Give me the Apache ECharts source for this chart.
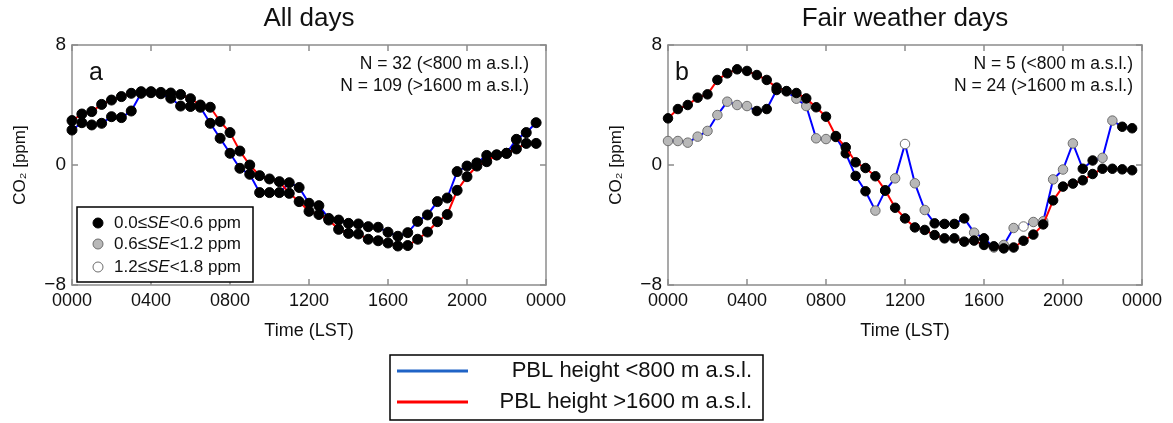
<!DOCTYPE html>
<html>
<head>
<meta charset="utf-8">
<script src="https://cdn.jsdelivr.net/npm/echarts@6/dist/echarts.min.js"></script>
<style>
html,body{margin:0;padding:0;background:#fff;}
#chart{width:1173px;height:423px;}
</style>
</head>
<body>
<div id="chart"></div>
<script>
// ---- data (half-hourly, hours since 0000 LST) ----
var hours = [];
for (var h = 0; h < 48; h++) hours.push(h / 2);

var titles = ['All days', 'Fair weather days'];
var panelLetters = ['a', 'b'];
var nLow = ['N = 32 (<800 m a.s.l.)', 'N = 5 (<800 m a.s.l.)'];
var nHigh = ['N = 109 (>1600 m a.s.l.)', 'N = 24 (>1600 m a.s.l.)'];
var xTickLabels = ['0000', '0400', '0800', '1200', '1600', '2000', '0000'];
var seClasses = ['0.0\u2264', 'SE', '<0.6 ppm', '0.6\u2264', 'SE', '<1.2 ppm', '1.2\u2264', 'SE', '<1.8 ppm'];
var seriesNames = ['PBL height <800 m a.s.l.', 'PBL height >1600 m a.s.l.'];

// All days
var allLow = [2.33, 2.82, 2.67, 2.78, 3.22, 3.16, 3.6, 4.78, 4.82, 4.75, 4.45, 3.93,
  3.9, 3.85, 2.78, 1.78, 0.78, -0.22, -0.62, -1.84, -1.84, -1.84, -1.18, -1.5,
  -2.55, -2.71, -3.56, -3.67, -3.89, -3.93, -4.11, -4.15, -4.48, -4.75, -4.51, -3.76,
  -3.33, -2.44, -2.2, -0.44, -0.07, 0.14, 0.64, 0.67, 0.78, 1.71, 2.16, 2.82];
var allHigh = [2.96, 3.4, 3.56, 4.04, 4.33, 4.56, 4.78, 4.89, 4.89, 4.84, 4.8, 4.7,
  4.42, 4.0, 3.85, 2.9, 2.16, 0.93, 0.0, -0.71, -0.93, -1.11, -1.89, -2.44,
  -3.09, -3.3, -3.67, -4.29, -4.56, -4.6, -4.95, -5.05, -5.2, -5.4, -5.37, -4.95,
  -4.47, -3.78, -3.3, -1.69, -0.78, -0.07, 0.22, 0.67, 0.78, 1.07, 1.44, 1.44];
var allLowSE = new Array(48).fill(0);
var allHighSE = new Array(48).fill(0);

// Fair weather days
var fairLow = [1.6, 1.6, 1.49, 1.89, 2.27, 3.33, 4.22, 4.0, 3.93, 3.6, 3.73, 5.0,
  4.9, 4.42, 3.93, 1.78, 1.73, 1.87, 0.78, -0.73, -1.75, -3.04, -1.71, -0.89,
  1.4, -1.22, -3.0, -3.89, -3.93, -3.93, -3.56, -4.51, -4.89, -5.5, -5.33, -4.2,
  -4.1, -3.8, -3.75, -0.96, -0.3, 1.44, -0.25, 0.3, 0.48, 2.96, 2.55, 2.45];
var fairHigh = [3.11, 3.73, 4.0, 4.49, 4.71, 5.67, 6.11, 6.38, 6.27, 6.0, 5.67, 5.16,
  4.93, 4.8, 4.44, 3.85, 3.22, 1.93, 1.18, 0.18, -0.2, -0.75, -1.69, -2.85,
  -3.56, -4.16, -4.33, -4.67, -4.89, -4.89, -5.11, -5.04, -5.33, -5.42, -5.56, -5.5,
  -5.05, -4.64, -3.96, -2.36, -1.44, -1.24, -1.02, -0.6, -0.25, -0.25, -0.29, -0.35];
// SE class: 0 = 0.0-0.6, 1 = 0.6-1.2, 2 = 1.2-1.8 ppm
var fairLowSE = [1, 1, 1, 1, 1, 1, 1, 1, 1, 0, 0, 0,
  1, 1, 1, 1, 1, 0, 0, 0, 0, 1, 0, 1,
  2, 1, 1, 0, 0, 0, 0, 1, 0, 1, 1, 1,
  2, 1, 1, 1, 1, 1, 0, 0, 1, 1, 0, 0];
var fairHighSE = new Array(48).fill(0);

// ---- styling ----
var FONT = 'Liberation Sans, Arial, sans-serif';
var SE_FILL = ['#000000', '#b8b8b8', '#ffffff'];
var SE_BORDER = ['#000000', '#6e6e6e', '#6e6e6e'];
var LINE_COLORS = ['#0000ff', '#ff0000'];
var LEGEND_LINE_COLORS = ['#1f63c6', '#ff0000'];
var AXIS_COLOR = '#8c8c8c';

var grids = [
  {left: 72, top: 45, width: 474, height: 240},
  {left: 668, top: 45, width: 474, height: 240}
];
var letterOffset = [17, 7];
var nOffset = [17, 9];

function xLabel(v) {
  var idx = Math.round(v / 4);
  return xTickLabels[idx] !== undefined ? xTickLabels[idx] : '';
}
function yLabel(v) {
  return v < 0 ? '\u2212' + Math.abs(v) : String(v);
}

var lineSt = {show: true, onZero: false, lineStyle: {color: AXIS_COLOR, width: 1.5}};
var tickSt = {show: true, inside: true, length: 6, lineStyle: {color: AXIS_COLOR, width: 1.5}};

var xAxes = [], yAxes = [], series = [];
grids.forEach(function (g, gi) {
  xAxes.push({
    type: 'value', gridIndex: gi, min: 0, max: 24, interval: 4, position: 'bottom',
    name: 'Time (LST)', nameLocation: 'middle', nameGap: 37,
    nameTextStyle: {fontFamily: FONT, fontSize: 18, color: '#111'},
    axisLine: lineSt, axisTick: tickSt,
    axisLabel: {formatter: xLabel, fontFamily: FONT, fontSize: 18, color: '#111', margin: 7},
    splitLine: {show: false}
  });
  xAxes.push({
    type: 'value', gridIndex: gi, min: 0, max: 24, interval: 4, position: 'top',
    axisLine: lineSt, axisTick: tickSt,
    axisLabel: {show: false}, splitLine: {show: false}
  });
  yAxes.push({
    type: 'value', gridIndex: gi, min: -8, max: 8, interval: 8, position: 'left',
    name: 'CO\u2082 [ppm]', nameLocation: 'middle', nameGap: 43, nameRotate: 90,
    nameTextStyle: {fontFamily: FONT, fontSize: 17, color: '#111'},
    axisLine: lineSt, axisTick: tickSt,
    axisLabel: {formatter: yLabel, fontFamily: FONT, fontSize: 19, color: '#111', margin: 6},
    splitLine: {show: false}
  });
  yAxes.push({
    type: 'value', gridIndex: gi, min: -8, max: 8, interval: 8, position: 'right',
    axisLine: lineSt, axisTick: tickSt,
    axisLabel: {show: false}, splitLine: {show: false}
  });
});

function mkSeries(gi, vals, se, k, size) {
  return {
    type: 'line', name: seriesNames[k],
    xAxisIndex: gi * 2, yAxisIndex: gi * 2,
    data: vals.map(function (v, i) {
      return {
        value: [hours[i], v],
        itemStyle: {color: SE_FILL[se[i]], borderColor: SE_BORDER[se[i]], borderWidth: 1}
      };
    }),
    symbol: 'circle', symbolSize: size, showSymbol: true,
    lineStyle: {color: LINE_COLORS[k], width: 2},
    itemStyle: {color: '#000'},
    emphasis: {disabled: true},
    animation: false, z: 3 + k
  };
}
series.push(mkSeries(0, allLow, allLowSE, 0, 10));
series.push(mkSeries(0, allHigh, allHighSE, 1, 10));
series.push(mkSeries(1, fairHigh, fairHighSE, 1, 9.5));
series.push(mkSeries(1, fairLow, fairLowSE, 0, 9.5));

// ---- graphics: titles, annotations, legends ----
var graphic = [];
grids.forEach(function (g, gi) {
  graphic.push({type: 'text', x: g.left + g.width / 2, y: 19,
    style: {text: titles[gi], font: '26px ' + FONT, fill: '#111', textAlign: 'center', textVerticalAlign: 'middle'}});
  graphic.push({type: 'text', x: g.left + letterOffset[gi], y: 73,
    style: {text: panelLetters[gi], font: '25px ' + FONT, fill: '#111', textAlign: 'left', textVerticalAlign: 'middle'}});
  graphic.push({type: 'text', x: g.left + g.width - nOffset[gi], y: 64,
    style: {text: nLow[gi], font: '17.5px ' + FONT, fill: '#111', textAlign: 'right', textVerticalAlign: 'middle'}});
  graphic.push({type: 'text', x: g.left + g.width - nOffset[gi], y: 86,
    style: {text: nHigh[gi], font: '17.5px ' + FONT, fill: '#111', textAlign: 'right', textVerticalAlign: 'middle'}});
});

// SE legend in panel a
var seRows = [223, 244, 267];
graphic.push({type: 'rect', shape: {x: 77, y: 207, width: 176, height: 75},
  style: {fill: '#fff', stroke: '#000', lineWidth: 1.5}, z: 10});
for (var r = 0; r < 3; r++) {
  graphic.push({type: 'circle', shape: {cx: 98, cy: seRows[r], r: 5},
    style: {fill: SE_FILL[r], stroke: SE_BORDER[r], lineWidth: 1}, z: 11});
  graphic.push({type: 'text', x: 114, y: seRows[r], z: 11,
    style: {
      text: '{n|' + seClasses[r * 3] + '}{i|' + seClasses[r * 3 + 1] + '}{n|' + seClasses[r * 3 + 2] + '}',
      rich: {
        n: {fontFamily: FONT, fontSize: 17, fill: '#111'},
        i: {fontFamily: FONT, fontSize: 17, fontStyle: 'italic', fill: '#111'}
      },
      textVerticalAlign: 'middle'
    }});
}

// Figure legend at bottom
graphic.push({type: 'rect', shape: {x: 390, y: 355, width: 373, height: 65},
  style: {fill: '#fff', stroke: '#000', lineWidth: 1.5}});
var legRows = [371, 402];
for (var k = 0; k < 2; k++) {
  graphic.push({type: 'line', shape: {x1: 397, y1: legRows[k], x2: 468, y2: legRows[k]},
    style: {stroke: LEGEND_LINE_COLORS[k], lineWidth: 3}});
  graphic.push({type: 'text', x: 752, y: legRows[k],
    style: {text: seriesNames[k], font: '22px ' + FONT, fill: '#111', textAlign: 'right', textVerticalAlign: 'middle'}});
}

var chart = echarts.init(document.getElementById('chart'), null, {renderer: 'canvas'});
chart.setOption({
  animation: false,
  backgroundColor: '#ffffff',
  grid: grids,
  xAxis: xAxes,
  yAxis: yAxes,
  series: series,
  graphic: graphic
});
</script>
</body>
</html>
